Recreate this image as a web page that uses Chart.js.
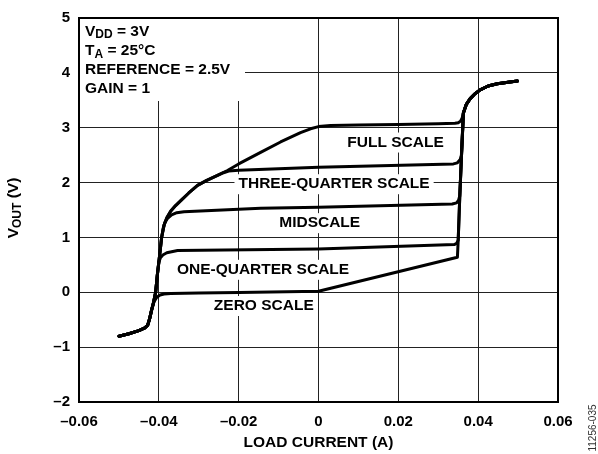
<!DOCTYPE html>
<html>
<head>
<meta charset="utf-8">
<title>VOUT vs load current</title>
<script src="https://cdn.jsdelivr.net/npm/chart.js@4.4.0/dist/chart.umd.min.js"></script>
<style>
  body { margin: 0; background: #fff; }
  #wrap { width: 598px; height: 454px; }
</style>
</head>
<body>
<div id="wrap"><canvas id="myChart" width="598" height="454"></canvas></div>
<script>
// Axis ticks
const xTicks = [-0.06, -0.04, -0.02, 0, 0.02, 0.04, 0.06];
const yTicks = [-2, -1, 0, 1, 2, 3, 4, 5];

// Curves, [load current (A), VOUT (V)]
const fullScale = [
  [-0.0500, -0.80], [-0.0475, -0.755], [-0.0450, -0.70], [-0.0435, -0.65], [-0.0428, -0.60],
  [-0.0423, -0.48], [-0.0418, -0.32], [-0.0413, -0.18], [-0.0408, 0.00], [-0.0404, 0.30],
  [-0.0400, 0.55], [-0.0396, 0.80], [-0.0393, 1.00], [-0.0387, 1.22], [-0.0380, 1.36],
  [-0.0370, 1.48], [-0.0358, 1.58], [-0.0345, 1.67], [-0.0325, 1.81], [-0.0303, 1.95],
  [-0.0280, 2.04], [-0.0253, 2.13], [-0.0228, 2.22], [-0.0200, 2.34], [-0.0145, 2.55],
  [-0.0095, 2.74], [-0.0045, 2.91], [-0.0020, 2.98], [0.0000, 3.02], [0.0030, 3.04],
  [0.0100, 3.05], [0.0200, 3.06], [0.0300, 3.07], [0.0342, 3.08], [0.0350, 3.09],
  [0.0356, 3.12], [0.0360, 3.18], [0.0363, 3.27], [0.0370, 3.42], [0.0380, 3.53],
  [0.0392, 3.62], [0.0405, 3.69], [0.0425, 3.76], [0.0448, 3.80], [0.0475, 3.83],
  [0.0498, 3.85]
];

const threeQuarterScale = [
  [-0.0500, -0.80], [-0.0475, -0.755], [-0.0450, -0.70], [-0.0435, -0.65], [-0.0428, -0.60],
  [-0.0423, -0.48], [-0.0418, -0.32], [-0.0413, -0.18], [-0.0408, 0.00], [-0.0404, 0.30],
  [-0.0400, 0.55], [-0.0396, 0.80], [-0.0393, 1.00], [-0.0387, 1.22], [-0.0380, 1.36],
  [-0.0370, 1.48], [-0.0358, 1.58], [-0.0345, 1.67], [-0.0325, 1.81], [-0.0303, 1.95],
  [-0.0280, 2.04], [-0.0253, 2.13], [-0.0238, 2.18], [-0.0225, 2.21], [-0.0200, 2.225],
  [-0.0100, 2.25], [0.0000, 2.28], [0.0338, 2.34], [0.0348, 2.36], [0.0355, 2.42],
  [0.0358, 2.50], [0.0363, 3.27], [0.0370, 3.42], [0.0380, 3.53], [0.0392, 3.62],
  [0.0405, 3.69], [0.0425, 3.76], [0.0448, 3.80], [0.0475, 3.83], [0.0498, 3.85]
];

const midScale = [
  [-0.0500, -0.80], [-0.0475, -0.755], [-0.0450, -0.70], [-0.0435, -0.65], [-0.0428, -0.60],
  [-0.0423, -0.48], [-0.0418, -0.32], [-0.0413, -0.18], [-0.0408, 0.00], [-0.0404, 0.30],
  [-0.0400, 0.55], [-0.0396, 0.80], [-0.0393, 1.00], [-0.0389, 1.17], [-0.0385, 1.27],
  [-0.0378, 1.35], [-0.0368, 1.41], [-0.0355, 1.45], [-0.0337, 1.47], [-0.0145, 1.53],
  [0.0000, 1.55], [0.0335, 1.61], [0.0346, 1.63], [0.0351, 1.68], [0.0354, 1.76],
  [0.0358, 2.45], [0.0363, 3.27], [0.0370, 3.42], [0.0380, 3.53], [0.0392, 3.62],
  [0.0405, 3.69], [0.0425, 3.76], [0.0448, 3.80], [0.0475, 3.83], [0.0498, 3.85]
];

const oneQuarterScale = [
  [-0.0500, -0.80], [-0.0475, -0.755], [-0.0450, -0.70], [-0.0435, -0.65], [-0.0428, -0.60],
  [-0.0423, -0.48], [-0.0418, -0.32], [-0.0413, -0.18], [-0.0408, 0.00], [-0.0404, 0.30],
  [-0.0400, 0.55], [-0.0396, 0.63], [-0.0390, 0.68], [-0.0380, 0.72], [-0.0365, 0.745],
  [-0.0353, 0.76], [0.0000, 0.79], [0.0340, 0.87], [0.0346, 0.89], [0.0350, 0.95],
  [0.0354, 1.76], [0.0358, 2.45], [0.0363, 3.27], [0.0370, 3.42], [0.0380, 3.53],
  [0.0392, 3.62], [0.0405, 3.69], [0.0425, 3.76], [0.0448, 3.80], [0.0475, 3.83],
  [0.0498, 3.85]
];

const zeroScale = [
  [-0.0500, -0.80], [-0.0475, -0.755], [-0.0450, -0.70], [-0.0435, -0.65], [-0.0428, -0.60],
  [-0.0423, -0.48], [-0.0418, -0.32], [-0.0412, -0.17], [-0.0405, -0.09], [-0.0397, -0.05],
  [-0.0387, -0.03], [-0.0370, -0.02], [-0.0300, -0.015], [-0.0200, -0.005], [0.0000, 0.02],
  [0.0348, 0.64], [0.0350, 0.95], [0.0354, 1.76], [0.0358, 2.45], [0.0363, 3.27],
  [0.0370, 3.42], [0.0380, 3.53], [0.0392, 3.62], [0.0405, 3.69], [0.0425, 3.76],
  [0.0448, 3.80], [0.0475, 3.83], [0.0498, 3.85]
];

const curveNames = ['FULL SCALE', 'THREE-QUARTER SCALE', 'MIDSCALE', 'ONE-QUARTER SCALE', 'ZERO SCALE'];

const BOLD = '"Liberation Sans", Arial, Helvetica, sans-serif';

function fmtTick(v) {
  if (Math.abs(v) < 1e-9) return '0';
  const s = Math.abs(v) < 1 && v % 1 !== 0 ? Math.abs(v).toFixed(2) : String(Math.abs(v));
  return v < 0 ? '\u2013' + s : s;
}

// text with a subscript part: main + sub + rest
function subText(ctx, main, sub, rest, size, subSize, shift) {
  ctx.font = 'bold ' + size + 'px ' + BOLD;
  const w1 = ctx.measureText(main).width;
  const w3 = ctx.measureText(rest).width;
  ctx.font = 'bold ' + subSize + 'px ' + BOLD;
  const w2 = ctx.measureText(sub).width;
  return {
    width: w1 + w2 + w3,
    draw(x, y) {
      ctx.textAlign = 'left';
      ctx.textBaseline = 'middle';
      ctx.font = 'bold ' + size + 'px ' + BOLD;
      ctx.fillText(main, x, y);
      ctx.font = 'bold ' + subSize + 'px ' + BOLD;
      ctx.fillText(sub, x + w1, y + shift);
      ctx.font = 'bold ' + size + 'px ' + BOLD;
      ctx.fillText(rest, x + w1 + w2, y);
    }
  };
}

const textPlugin = {
  id: 'textPlugin',
  beforeDatasetsDraw(chart) {
    const { ctx, chartArea, scales } = chart;
    const labelPos = [[0.0193, 2.73], [0.0039, 1.97], [0.0003, 1.26], [-0.0139, 0.41], [-0.0137, -0.25]];
    ctx.save();
    // conditions box, top left
    ctx.fillStyle = '#fff';
    ctx.fillRect(chartArea.left, chartArea.top, 166, 83);
    ctx.fillStyle = '#000';
    subText(ctx, 'V', 'DD', ' = 3V', 15.5, 12, 3.5).draw(chartArea.left + 6, 31.5);
    subText(ctx, 'T', 'A', ' = 25°C', 15.5, 12, 3.5).draw(chartArea.left + 6, 51);
    subText(ctx, 'REFERENCE = 2.5V', '', '', 15.5, 12, 0).draw(chartArea.left + 6, 70);
    subText(ctx, 'GAIN = 1', '', '', 15.5, 12, 0).draw(chartArea.left + 6, 88.8);

    ctx.font = 'bold 15.5px ' + BOLD;
    ctx.textAlign = 'center';
    ctx.textBaseline = 'middle';
    curveNames.forEach((name, i) => {
      const px = scales.x.getPixelForValue(labelPos[i][0]);
      const py = scales.y.getPixelForValue(labelPos[i][1]);
      const w = ctx.measureText(name).width;
      ctx.fillStyle = '#fff';
      ctx.fillRect(px - w / 2 - 4, py - 10, w + 8, 20);
      ctx.fillStyle = '#000';
      ctx.fillText(name, px, py);
    });
    ctx.restore();
  },
  afterDraw(chart) {
    const { ctx, chartArea } = chart;
    ctx.save();
    ctx.strokeStyle = '#000';
    ctx.lineWidth = 2;
    ctx.strokeRect(chartArea.left, chartArea.top, chartArea.right - chartArea.left, chartArea.bottom - chartArea.top);

    // axis titles
    ctx.fillStyle = '#000';
    ctx.font = 'bold 15.5px ' + BOLD;
    ctx.textAlign = 'center';
    ctx.textBaseline = 'middle';
    ctx.fillText('LOAD CURRENT (A)', (chartArea.left + chartArea.right) / 2, 443);

    const yt = subText(ctx, 'V', 'OUT', ' (V)', 15.5, 12, 3.5);
    ctx.translate(14, 208);
    ctx.rotate(-Math.PI / 2);
    yt.draw(-yt.width / 2, 0);
    ctx.restore();

    // figure number
    ctx.save();
    ctx.fillStyle = '#333';
    ctx.font = '10px ' + BOLD;
    ctx.textAlign = 'center';
    ctx.textBaseline = 'middle';
    ctx.translate(593, 428);
    ctx.rotate(-Math.PI / 2);
    ctx.fillText('11256-035', 0, 0);
    ctx.restore();
  }
};

function curve(points) {
  return {
    data: points.map(p => ({ x: p[0], y: p[1] })),
    showLine: true,
    borderColor: '#000',
    borderWidth: 3,
    pointRadius: 0,
    tension: 0,
    borderJoinStyle: 'round',
    borderCapStyle: 'round',
    clip: false
  };
}

const config = {
  type: 'scatter',
  data: {
    datasets: [fullScale, threeQuarterScale, midScale, oneQuarterScale, zeroScale].map(curve)
  },
  options: {
    responsive: false,
    devicePixelRatio: 1,
    animation: false,
    layout: { padding: { top: 17, right: 40, left: 0, bottom: 0 } },
    plugins: { legend: { display: false }, tooltip: { enabled: false } },
    scales: {
      x: {
        type: 'linear',
        min: -0.06,
        max: 0.06,
        afterBuildTicks: scale => { scale.ticks = xTicks.map(v => ({ value: v })); },
        afterFit: scale => { scale.height = 52; },
        grid: { color: '#222', lineWidth: 1, drawTicks: false },
        border: { display: false },
        ticks: {
          color: '#000',
          padding: 11,
          maxRotation: 0,
          autoSkip: false,
          font: { family: BOLD, size: 15, weight: 'bold' },
          callback: v => fmtTick(v)
        }
      },
      y: {
        type: 'linear',
        min: -2,
        max: 5,
        afterBuildTicks: scale => { scale.ticks = yTicks.map(v => ({ value: v })); },
        afterFit: scale => { scale.width = 79; },
        grid: { color: '#222', lineWidth: 1, drawTicks: false },
        border: { display: false },
        ticks: {
          color: '#000',
          padding: 9,
          autoSkip: false,
          font: { family: BOLD, size: 15, weight: 'bold' },
          callback: v => fmtTick(v)
        }
      }
    }
  },
  plugins: [textPlugin]
};

const myChart = new Chart(document.getElementById('myChart'), config);
</script>
</body>
</html>
